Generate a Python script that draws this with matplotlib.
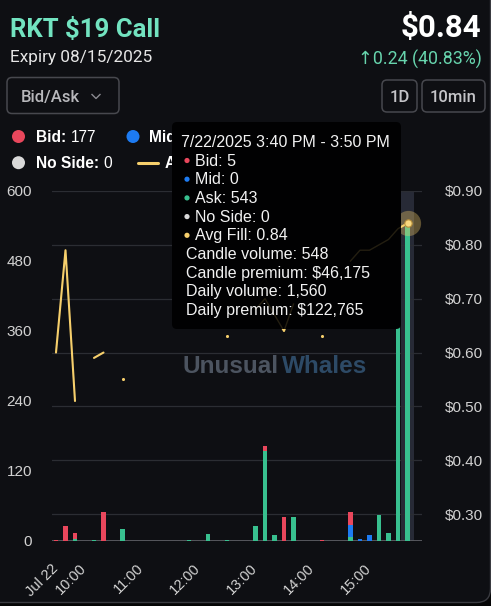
import numpy as np
import matplotlib
matplotlib.use("Agg")
import matplotlib.pyplot as plt
from matplotlib.patches import FancyBboxPatch, Circle
from matplotlib.lines import Line2D

nan = np.nan

# ---------------- data ----------------
slots = [f"{9 + (30 + 10 * i) // 60:02d}:{(30 + 10 * i) % 60:02d}" for i in range(38)]
bid = [2, 26, 10, 0, 0, 50, 0, 0, 0, 0,
       0, 0, 0, 0, 0, 0, 0, 0, 0, 0,
       0, 0, 8, 0, 41, 0, 0, 0, 1, 0,
       0, 21, 0, 0, 0, 0, 13, 5]
mid = [0, 0, 0, 0, 0, 0, 0, 0, 0, 0,
       0, 0, 0, 0, 0, 0, 0, 0, 0, 0,
       0, 0, 0, 0, 0, 0, 0, 0, 0, 0,
       0, 21, 3, 10, 0, 0, 0, 0]
ask = [0, 0, 4, 0, 1, 0, 0, 20, 0, 0,
       0, 0, 0, 0, 1, 0, 12, 0, 1, 0,
       0, 26, 155, 11, 0, 41, 0, 0, 0, 0,
       0, 7, 0, 0, 44, 13, 470, 543]
avg_fill = [0.60, 0.79, 0.51, nan, 0.59, 0.60, nan, 0.55, nan, nan,
            nan, nan, nan, nan, 0.70, nan, 0.68, nan, 0.63, nan,
            nan, 0.68, 0.70, 0.67, 0.64, 0.69, nan, nan, 0.63, nan,
            nan, 0.77, 0.79, 0.79, 0.80, 0.81, 0.83, 0.84]
vol_ticks = [0, 120, 240, 360, 480, 600]
price_ticks = [0.30, 0.40, 0.50, 0.60, 0.70, 0.80, 0.90]
time_ticks = ["09:30", "10:00", "11:00", "12:00", "13:00", "14:00", "15:00"]
time_labels = ["Jul 22", "10:00", "11:00", "12:00", "13:00", "14:00", "15:00"]
hover_slot = "15:40"

tooltip_title = "7/22/2025 3:40 PM - 3:50 PM"
tooltip_rows = [("Bid: 5", "#e9475c"), ("Mid: 0", "#1d7bf2"), ("Ask: 543", "#38c08f"),
                ("No Side: 0", "#d9d9d9"), ("Avg Fill: 0.84", "#f6cf6c"),
                ("Candle volume: 548", None), ("Candle premium: $46,175", None),
                ("Daily volume: 1,560", None), ("Daily premium: $122,765", None)]

# ---------------- style ----------------
BG = "#0e0f13"
C_BID, C_MID, C_ASK, C_NS, C_AVG = "#e9475c", "#1d7bf2", "#38c08f", "#d9d9d9", "#f6cf6c"
FT = ["Liberation Sans", "DejaVu Sans"]
FH = ["Roboto", "DejaVu Sans"]

def hours(s):
    h, m = s.split(":")
    return int(h) + int(m) / 60.0

x = np.array([hours(s) for s in slots])
bid_a, mid_a, ask_a = np.array(bid, float), np.array(mid, float), np.array(ask, float)
avg_a = np.array(avg_fill, float)

W, H = 491, 606
fig = plt.figure(figsize=(W / 100, H / 100), dpi=100)
fig.patch.set_facecolor("#050506")

# background card
ax_bg = fig.add_axes([0, 0, 1, 1], zorder=-5)
ax_bg.set_xlim(0, W); ax_bg.set_ylim(H, 0); ax_bg.axis("off")
ax_bg.add_patch(FancyBboxPatch((-30, -30), W + 29.5, H - 3.5 + 30,
                               boxstyle="round,pad=0,rounding_size=14",
                               facecolor=BG, edgecolor="#3a3b41", lw=1.0))
ax_bg.text(183, 373, "Unusual", color="#4c5460", fontsize=17.5, fontweight="bold",
           family=FT, va="baseline", ha="left")
ax_bg.text(282, 373, "Whales", color="#2d4a66", fontsize=17.5, fontweight="bold",
           family=FT, va="baseline", ha="left")

rect = [52 / W, 1 - 541 / H, 370 / W, 350 / H]
ax_v = fig.add_axes(rect, zorder=2)
ax_p = ax_v.twinx()
ax_p.set_zorder(1)
ax_v.patch.set_visible(False)
ax_p.patch.set_visible(False)

x_left = hours("09:30") - 4 / 57
x_right = hours("09:30") + 366 / 57
ax_v.set_xlim(x_left, x_right)
ax_v.set_ylim(0, 600)
ax_p.set_ylim(0.25, 0.90)

# grid on price axis
ax_p.set_yticks(price_ticks)
ax_p.set_yticklabels([f"${p:.2f}" for p in price_ticks])
ax_p.grid(axis="y", color="#2b2d33", lw=0.9)
ax_p.set_axisbelow(True)
hx = x[slots.index(hover_slot)]
ax_p.axvspan(hx - 0.11, hx + 0.11, color="#272a36", lw=0, zorder=0)

# bars
bw = 0.085
ax_v.bar(x, ask_a, width=bw, color=C_ASK, lw=0, zorder=2)
ax_v.bar(x, mid_a, width=bw, bottom=ask_a, color=C_MID, lw=0, zorder=2)
ax_v.bar(x, bid_a, width=bw, bottom=ask_a + mid_a, color=C_BID, lw=0, zorder=2)
ax_v.axhline(0, color="#5c5d63", lw=1.3, zorder=1)

ax_v.set_yticks(vol_ticks)
ax_v.set_yticklabels([str(v) for v in vol_ticks])
ax_v.set_xticks([hours(t) for t in time_ticks])
ax_v.set_xticklabels(time_labels, rotation=45, ha="right", va="center",
                     rotation_mode="anchor")

for a in (ax_v, ax_p):
    for s in a.spines.values():
        s.set_visible(False)
ax_v.tick_params(axis="y", length=0, pad=14.4, labelcolor="#d2d2d2", labelsize=11)
ax_v.tick_params(axis="x", length=0, pad=18, labelcolor="#d2d2d2", labelsize=10.5)
ax_p.tick_params(axis="y", length=0, pad=16.5, labelcolor="#d2d2d2", labelsize=11)
for lab in ax_v.get_yticklabels() + ax_v.get_xticklabels() + ax_p.get_yticklabels():
    lab.set_family(FT)

# price line axes
ax_l = ax_v.twinx()
ax_l.set_zorder(3)
ax_l.patch.set_visible(False)
ax_l.set_ylim(0.25, 0.90)
ax_l.axis("off")
ax_l.plot(x, avg_a, color=C_AVG, lw=1.5, solid_capstyle="round", zorder=3)
prev = np.r_[nan, avg_a[:-1]]
nxt = np.r_[avg_a[1:], nan]
iso = ~np.isnan(avg_a) & np.isnan(prev) & np.isnan(nxt)
ax_l.scatter(x[iso], avg_a[iso], s=5, color=C_AVG, lw=0, zorder=3)
hi = slots.index(hover_slot)
ax_l.scatter([x[hi]], [avg_a[hi]], s=330, color=C_AVG, alpha=0.35, lw=0, zorder=4)
ax_l.scatter([x[hi]], [avg_a[hi]], s=28, color="#f8d880", edgecolor="#b58d3a", lw=0.8, zorder=5)

# ---------------- overlay (header, legend, tooltip) ----------------
ax_o = fig.add_axes([0, 0, 1, 1], zorder=10)
ax_o.set_xlim(0, W); ax_o.set_ylim(H, 0); ax_o.axis("off")
ax_o.patch.set_visible(False)

ax_o.text(10, 37.3, "RKT $19 Call", color="#72e3c0", fontsize=18.5, fontweight="bold",
          family=FH, va="baseline", ha="left")
ax_o.text(10, 62, "Expiry 08/15/2025", color="#e6e6e6", fontsize=12.4,
          family=FH, va="baseline", ha="left")
ax_o.text(481.5, 37.3, "$0.84", color="#ffffff", fontsize=22.5, fontweight="bold",
          family=FH, va="baseline", ha="right")
ax_o.text(481.5, 64.3, "↑0.24 (40.83%)", color="#67d4ad", fontsize=12.8,
          family=FH, va="baseline", ha="right")

def button(x0, x1, y0, y1):
    ax_o.add_patch(FancyBboxPatch((x0, y0), x1 - x0, y1 - y0,
                                  boxstyle="round,pad=0,rounding_size=5",
                                  facecolor="none", edgecolor="#47484e", lw=1.1))

button(7, 119, 77.5, 113.5)
ax_o.text(21, 101.7, "Bid/Ask", color="#b8b8bc", fontsize=12, fontweight="medium",
          family=FH, va="baseline", ha="left")
ax_o.add_line(Line2D([92, 96, 100], [94.5, 98.5, 94.5], color="#8a8a90", lw=1.0))
button(382, 417, 80, 112)
ax_o.text(399.5, 101.7, "1D", color="#c4c4c8", fontsize=12, fontweight="medium",
          family=FH, va="baseline", ha="center")
button(422, 485, 80, 112)
ax_o.text(453.5, 101.7, "10min", color="#c4c4c8", fontsize=12, fontweight="medium",
          family=FH, va="baseline", ha="center")

# legend (items partly hidden under the tooltip)
def leg_item(cx, cy, kind, color, bold, val, tx, base):
    if kind == "dot":
        ax_o.add_patch(Circle((cx, cy), 6.5, color=color, lw=0, zorder=1))
    else:
        ax_o.add_line(Line2D([cx - 10, cx + 10], [cy, cy], color=color, lw=2.2,
                             solid_capstyle="round", zorder=1))
    t = ax_o.text(tx, base, bold, color="#ffffff", fontsize=11.2, fontweight="bold",
                  family=FT, va="baseline", ha="left", zorder=1)
    if val:
        ax_o.annotate(val, xy=(1, 0), xycoords=t, xytext=(3, 0), textcoords="offset points",
                      color="#ffffff", fontsize=11.2, family=FT, va="bottom", ha="left",
                      zorder=1)

leg_item(18.5, 136.5, "dot", C_BID, "Bid:", "177", 36, 141.7)
leg_item(133, 136.5, "dot", C_MID, "Mid", "", 149, 141.7)
leg_item(18.5, 162.7, "dot", C_NS, "No Side:", "0", 36, 168.3)
leg_item(148, 162.7, "line", C_AVG, "Avg", "", 165, 168.3)

# tooltip
ax_o.add_patch(FancyBboxPatch((172, 122), 229, 207,
                              boxstyle="round,pad=0,rounding_size=5",
                              facecolor="#010102", edgecolor="none", zorder=5))
faint = Line2D(x, avg_a, color=C_AVG, lw=1.0, alpha=0.14, zorder=6,
               transform=ax_l.transData)
ax_o.add_line(faint)
ax_o.text(181.5, 146.7, tooltip_title, color="#f2f2f2", fontsize=11.5,
          family=FT, va="baseline", ha="left", zorder=7)
base = 165.5
for label, col in tooltip_rows:
    if col is not None:
        ax_o.add_patch(Circle((187, base - 5), 2.6, color=col, lw=0, zorder=7))
        ax_o.text(195.5, base, label, color="#f2f2f2", fontsize=11.5,
                  family=FT, va="baseline", ha="left", zorder=7)
    else:
        ax_o.text(186.5, base, label, color="#f2f2f2", fontsize=11.5,
                  family=FT, va="baseline", ha="left", zorder=7)
    base += 18.7

fig.savefig("out.png", dpi=100, facecolor=fig.get_facecolor())
